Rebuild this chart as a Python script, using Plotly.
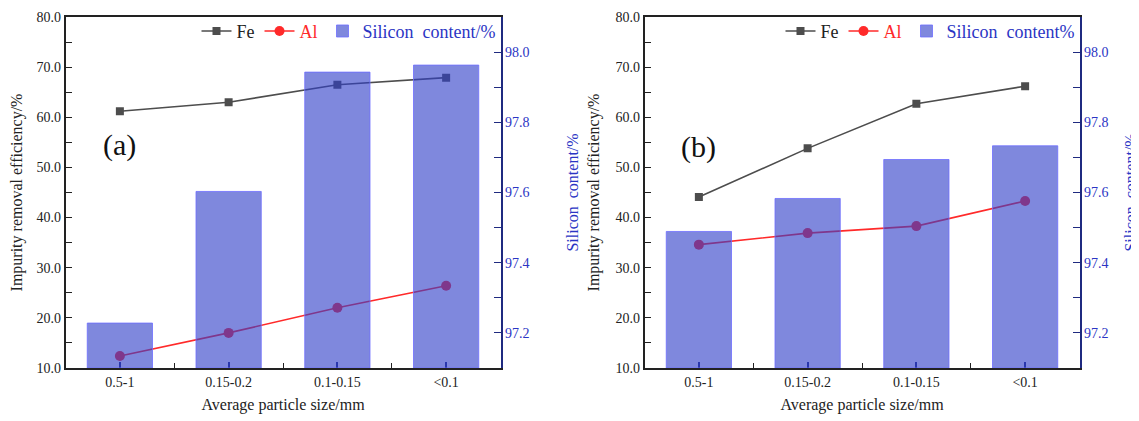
import plotly.graph_objects as go

# ---------------- data ----------------
categories = ["0.5-1", "0.15-0.2", "0.1-0.15", "<0.1"]
fe_a = [61.2, 63.0, 66.5, 67.9]
al_a = [12.4, 17.0, 22.0, 26.4]
si_a = [97.228, 97.603, 97.943, 97.963]

fe_b = [44.1, 53.8, 62.7, 66.2]
al_b = [34.6, 36.9, 38.3, 43.3]
si_b = [97.489, 97.583, 97.694, 97.733]

left_ticks = [10, 20, 30, 40, 50, 60, 70, 80]
left_minor = [15, 25, 35, 45, 55, 65, 75]
right_ticks = [97.2, 97.4, 97.6, 97.8, 98.0]
right_minor = [97.3, 97.5, 97.7, 97.9]

xpos = list(range(len(categories)))

FONT = "Liberation Serif, Times New Roman, serif"
FE_COLOR = "#4d4d4d"
AL_COLOR = "#ff2a2a"
BAR_COLOR = "rgba(48,63,200,0.62)"
BAR_LINE = "rgba(110,110,255,0.8)"
NAVY = "#1f2a80"
BLUE_TXT = "#2b35c4"

# page body has an 8px margin -> work in shifted pixel coordinates
OFF = 8
W, H = 1139 - OFF, 421 - OFF
top_px, bot_px = 17 - OFF, 368 - OFF
dom_a = [(65.5 - OFF) / W, (500.5 - OFF) / W]
dom_b = [(644.5 - OFF) / W, (1079.5 - OFF) / W]

fig = go.Figure()

panels = [
    ("x", "y", "y2", fe_a, al_a, si_a, "legend", "Silicon  content/%"),
    ("x2", "y3", "y4", fe_b, al_b, si_b, "legend2", "Silicon  content%"),
]

for xa, ya, ya2, fe, al, si, lg, si_name in panels:
    fig.add_trace(go.Scatter(
        x=xpos, y=fe, xaxis=xa, yaxis=ya, mode="lines+markers", name="Fe",
        line=dict(color=FE_COLOR, width=1.6),
        marker=dict(symbol="square", size=8, color=FE_COLOR),
        legend=lg, hoverinfo="skip"))
    fig.add_trace(go.Scatter(
        x=xpos, y=al, xaxis=xa, yaxis=ya, mode="lines+markers",
        name="<span style='color:#ff2a2a'>Al</span>",
        line=dict(color=AL_COLOR, width=1.6),
        marker=dict(symbol="circle", size=10, color=AL_COLOR),
        legend=lg, hoverinfo="skip"))
    fig.add_trace(go.Bar(
        x=xpos, y=[v - 97.1 for v in si], base=97.1, xaxis=xa, yaxis=ya2,
        width=0.6, name=f"<span style='color:{BLUE_TXT}'>{si_name}</span>",
        marker=dict(color=BAR_COLOR, line=dict(color=BAR_LINE, width=1)),
        legend=lg, hoverinfo="skip"))

tickfont = dict(family=FONT, size=14, color="#222222")
titlefont = dict(family=FONT, size=16, color="#222222")

def xaxis_cfg(dom, anchor):
    return dict(
        domain=dom, anchor=anchor, range=[-0.5, 3.5], automargin=False,
        tickvals=xpos, ticktext=categories, ticks="inside", ticklen=6,
        tickcolor=NAVY, tickwidth=1.5,
        minor=dict(tickvals=[0.5, 1.5, 2.5], ticks="inside", ticklen=5,
                   tickcolor="#222", tickwidth=1.2),
        showline=True, linecolor="#222", linewidth=1.5, mirror=True,
        showgrid=False, zeroline=False, tickfont=tickfont,
        title=dict(text="Average particle size/mm", font=titlefont, standoff=10),
        layer="below traces")

def yaxis_cfg(anchor):
    return dict(
        domain=[0, 1], anchor=anchor, automargin=False,
        range=[10, 80], tickvals=left_ticks, tickformat=".1f",
        ticks="inside", ticklen=7, tickcolor="#222", tickwidth=1.3,
        minor=dict(tickvals=left_minor, ticks="inside", ticklen=7,
                   tickcolor="#222", tickwidth=1.2),
        showline=True, linecolor="#222", linewidth=1.5,
        showgrid=False, zeroline=False, tickfont=tickfont,
        title=dict(text="Impurity removal efficiency/%", font=titlefont, standoff=12))

def y2_cfg(overlay, anchor, standoff):
    return dict(
        overlaying=overlay, side="right", anchor=anchor, automargin=False,
        range=[97.1, 98.1], tickvals=right_ticks, tickformat=".1f",
        ticks="inside", ticklen=7, tickcolor=NAVY, tickwidth=1.3,
        minor=dict(tickvals=right_minor, ticks="inside", ticklen=7,
                   tickcolor=NAVY, tickwidth=1.2),
        showline=True, linecolor=NAVY, linewidth=1.5,
        showgrid=False, zeroline=False,
        tickfont=dict(family=FONT, size=14, color=BLUE_TXT),
        title=dict(text="Silicon  content/%", font=dict(family=FONT, size=16, color=BLUE_TXT),
                   standoff=standoff))

legend_common = dict(orientation="h", yanchor="top", y=1.012, xanchor="right",
                     bgcolor="rgba(0,0,0,0)", font=dict(family=FONT, size=18, color="#222"),
                     itemwidth=30, tracegroupgap=0, itemclick=False)

fig.update_layout(
    width=W, height=H,
    margin=dict(l=0, r=0, t=top_px, b=H - bot_px, autoexpand=False),
    paper_bgcolor="white", plot_bgcolor="white",
    showlegend=True, barmode="overlay",
    xaxis=xaxis_cfg(dom_a, "y"),
    xaxis2=xaxis_cfg(dom_b, "y3"),
    yaxis=yaxis_cfg("x"),
    yaxis2=y2_cfg("y", "x", 38),
    yaxis3=yaxis_cfg("x2"),
    yaxis4=y2_cfg("y3", "x2", 38),
    legend=dict(legend_common, x=dom_a[1]),
    legend2=dict(legend_common, x=dom_b[1]),
    annotations=[
        dict(text="(a)", x=0, y=54.4, xref="x", yref="y", showarrow=False,
             font=dict(family=FONT, size=30, color="#111")),
        dict(text="(b)", x=0, y=54.0, xref="x2", yref="y3", showarrow=False,
             font=dict(family=FONT, size=30, color="#111")),
    ],
)

fig.write_html("out.html", config={"displayModeBar": False})
